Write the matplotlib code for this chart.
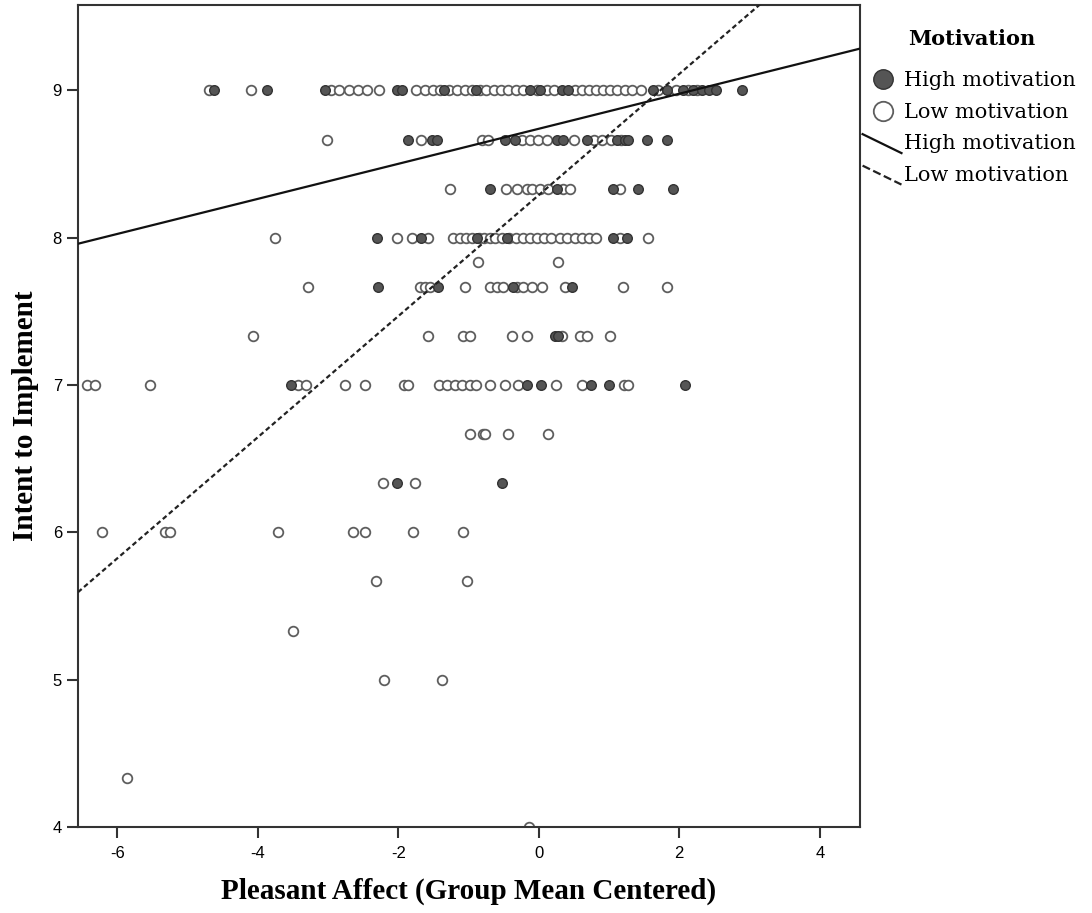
import numpy as np
import matplotlib
matplotlib.use("Agg")
import matplotlib.pyplot as plt
from matplotlib.lines import Line2D
from matplotlib.legend_handler import HandlerBase

plt.rcParams['axes.unicode_minus'] = False

# Intent levels (rows of the scatter)
levels = [9, 26/3, 25/3, 8, 47/6, 23/3, 22/3, 7, 20/3, 19/3, 6, 17/3, 16/3, 5, 13/3, 4]

# pleasant affect values for high motivation, one list per level
high_pa = [
    [-4.62, -3.87, -3.05, -2.02, -1.95, -1.35, -0.90, -0.12, 0.02, 0.33, 0.41,
     1.62, 1.82, 2.05, 2.20, 2.32, 2.42, 2.52, 2.89],
    [-1.86, -1.52, -1.45, -0.48, -0.34, 0.26, 0.34, 0.68, 1.12, 1.22, 1.27, 1.54, 1.83],
    [-0.70, 0.26, 1.05, 1.41, 1.91],
    [-2.30, -1.68, -0.88, -0.45, 1.05, 1.25],
    [],
    [-2.29, -1.44, -0.37, 0.47],
    [0.23, 0.27],
    [-3.53, -0.17, 0.03, 0.74, 1.00, 2.08],
    [],
    [-2.02, -0.53],
    [], [], [], [], [], [],
]

# pleasant affect values for low motivation, one list per level
low_pa = [
    [-4.70, -4.10, -2.96, -2.84, -2.70, -2.58, -2.44, -2.27, -1.75, -1.62, -1.50,
     -1.40, -1.28, -1.17, -1.05, -0.95, -0.84, -0.75, -0.64, -0.54, -0.44, -0.33,
     -0.22, -0.02, 0.12, 0.22, 0.52, 0.62, 0.72, 0.82, 0.92, 1.02, 1.12, 1.22,
     1.32, 1.45, 1.70, 1.95, 2.12, 2.25],
    [-3.02, -1.67, -0.81, -0.72, -0.24, -0.13, -0.01, 0.12, 0.50, 0.78, 0.90, 1.03, 1.17],
    [-1.27, -0.46, -0.31, -0.17, -0.09, 0.01, 0.13, 0.34, 0.44, 1.15],
    [-3.75, -2.02, -1.80, -1.58, -1.22, -1.12, -1.04, -0.95, -0.85, -0.78, -0.70,
     -0.62, -0.52, -0.42, -0.32, -0.22, -0.12, -0.02, 0.08, 0.18, 0.30, 0.40,
     0.52, 0.62, 0.72, 0.82, 1.15, 1.55],
    [-0.87, 0.28],
    [-3.28, -1.69, -1.62, -1.55, -1.05, -0.70, -0.60, -0.51, -0.31, -0.23, -0.10,
     0.04, 0.37, 1.20, 1.82],
    [-4.07, -1.58, -1.08, -0.98, -0.38, -0.17, 0.33, 0.58, 0.68, 1.01],
    [-6.43, -6.32, -5.53, -3.43, -3.31, -2.76, -2.48, -1.92, -1.86, -1.42, -1.31,
     -1.19, -1.10, -0.98, -0.90, -0.70, -0.48, -0.30, 0.24, 0.62, 1.21, 1.27],
    [-0.98, -0.80, -0.77, -0.44, 0.13],
    [-2.22, -1.76],
    [-6.22, -5.32, -5.25, -3.71, -2.65, -2.48, -1.79, -1.08],
    [-2.32, -1.02],
    [-3.50],
    [-2.20, -1.38],
    [-5.86],
    [-0.14],
]

# fit lines (intercept, slope)
high_fit = (8.74, 0.119)
low_fit = (8.29, 0.411)

x_ticks = [-6, -4, -2, 0, 2, 4]
y_ticks = [4, 5, 6, 7, 8, 9]


class DiagHandler(HandlerBase):
    def create_artists(self, legend, orig_handle, xdescent, ydescent, width, height, fontsize, trans):
        ln = Line2D([-xdescent - 4, width - xdescent + 3],
                    [height * 1.05 - ydescent, -height * 0.25 - ydescent],
                    color=orig_handle.get_color(), linestyle=orig_handle.get_linestyle(),
                    linewidth=orig_handle.get_linewidth(), transform=trans)
        return [ln]


hx = np.concatenate([np.array(v, dtype=float) for v in high_pa])
hy = np.concatenate([np.full(len(v), lv) for v, lv in zip(high_pa, levels)])
lx = np.concatenate([np.array(v, dtype=float) for v in low_pa])
ly = np.concatenate([np.full(len(v), lv) for v, lv in zip(low_pa, levels)])

fig = plt.figure(figsize=(10.92, 9.13), dpi=100)
ax = fig.add_axes([0.0714, 0.0942, 0.716, 0.9003])

ax.scatter(lx, ly, s=48, facecolor='white', edgecolor='#5e5e5e', linewidth=1.3, zorder=2)
ax.scatter(hx, hy, s=48, facecolor='#555555', edgecolor='#333333', linewidth=1.0, zorder=3)

xs = np.array([-6.56, 4.57])
ax.plot(xs, high_fit[0] + high_fit[1] * xs, color='#111111', linewidth=1.6, zorder=4)
ax.plot(xs, low_fit[0] + low_fit[1] * xs, color='#222222', linewidth=1.6,
        linestyle=(0, (2.2, 1.4)), zorder=4)

ax.set_xlim(-6.56, 4.57)
ax.set_ylim(4, 9.58)
ax.set_xticks(x_ticks)
ax.set_yticks(y_ticks)
ax.tick_params(direction='out', length=8, width=1.5, color='#333333', labelsize=12)
ax.tick_params(axis='x', pad=6)
for lab in ax.get_xticklabels() + ax.get_yticklabels():
    lab.set_fontfamily('Liberation Sans')
for sp in ax.spines.values():
    sp.set_color('#333333')
    sp.set_linewidth(1.5)

ax.set_xlabel('Pleasant Affect (Group Mean Centered)', fontfamily='Liberation Serif',
              fontweight='bold', fontsize=21, labelpad=12)
ax.set_ylabel('Intent to Implement', fontfamily='Liberation Serif',
              fontweight='bold', fontsize=21, labelpad=10)

handles = [
    Line2D([], [], linestyle='none', marker='o', markersize=14,
           markerfacecolor='#555555', markeredgecolor='#333333'),
    Line2D([], [], linestyle='none', marker='o', markersize=14,
           markerfacecolor='white', markeredgecolor='#5e5e5e', markeredgewidth=1.3),
    Line2D([], [], color='#111111', linewidth=1.6),
    Line2D([], [], color='#222222', linewidth=1.6, linestyle=(0, (2.2, 1.4))),
]
labels = ['High motivation', 'Low motivation', 'High motivation', 'Low motivation']
leg = fig.legend(handles, labels, loc='upper left', bbox_to_anchor=(0.795, 0.968),
                 frameon=False, title='Motivation', handlelength=1.4, handletextpad=0.3,
                 labelspacing=0.6, borderaxespad=0, borderpad=0,
                 prop={'family': 'DejaVu Serif', 'size': 15},
                 handler_map={handles[2]: DiagHandler(), handles[3]: DiagHandler()})
leg.get_title().set_fontfamily('DejaVu Serif')
leg.get_title().set_fontweight('bold')
leg.get_title().set_fontsize(15)
leg._legend_box.sep = 16

fig.savefig('out.png', dpi=100)
